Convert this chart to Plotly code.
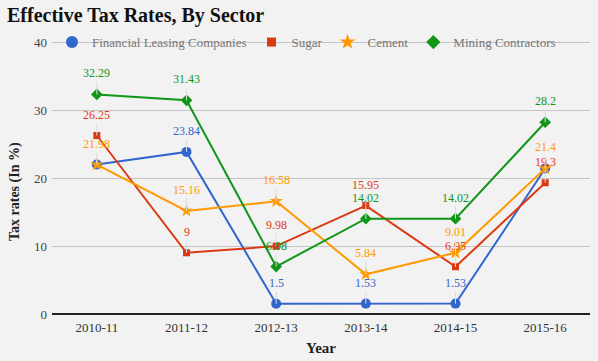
import plotly.graph_objects as go

years = ["2010-11", "2011-12", "2012-13", "2013-14", "2014-15", "2015-16"]
financial = [21.98, 23.84, 1.5, 1.53, 1.53, 21.4]
sugar = [26.25, 9, 9.98, 15.95, 6.95, 19.3]
cement = [21.98, 15.16, 16.58, 5.84, 9.01, 21.4]
mining = [32.29, 31.43, 6.98, 14.02, 14.02, 28.2]
# which data labels are visible (overlapping ones hidden as in the original)
financial_show = [False, True, True, True, True, False]
sugar_show = [True, True, True, True, True, True]
cement_show = [True, True, True, True, True, True]
mining_show = [True, True, True, True, True, True]

FONT = "Liberation Serif"
series = [
    ("Financial Leasing Companies", financial, financial_show, "#3366cc", "circle", 10),
    ("Sugar", sugar, sugar_show, "#dc3912", "square", 7),
    ("Cement", cement, cement_show, "#ff9900", "star", 10),
    ("Mining Contractors", mining, mining_show, "#109618", "diamond", 9),
]

fig = go.Figure()
annotations = []
for name, vals, show, color, sym, size in series:
    fig.add_trace(go.Scatter(
        x=years, y=vals, mode="lines+markers", name=name, showlegend=False,
        line=dict(color=color, width=2),
        marker=dict(symbol=sym, size=size, color=color),
    ))
    # legend entry: marker only, like the original
    fig.add_trace(go.Scatter(
        x=[None], y=[None], mode="markers", name=name,
        marker=dict(symbol=sym, size=size + 2, color=color),
    ))
    for x, v, s in zip(years, vals, show):
        if not s:
            continue
        annotations.append(dict(
            x=x, y=v, xref="x", yref="y", text=f"{v:g}",
            showarrow=True, arrowhead=0, arrowwidth=1, arrowcolor="#dddddd",
            ax=0, ay=-21, standoff=0,
            font=dict(family=FONT, size=12, color=color),
        ))

annotations.append(dict(
    text="<b>Effective Tax Rates, By Sector</b>", xref="paper", yref="paper",
    x=-0.087, y=1.0, xanchor="left", yanchor="bottom", yshift=12, showarrow=False,
    font=dict(family=FONT, size=20, color="#111111"),
))
annotations.append(dict(
    text="<b>Tax rates (In %)</b>", xref="paper", yref="paper",
    x=-0.069, y=0.45, xanchor="center", yanchor="middle", textangle=-90, showarrow=False,
    font=dict(family=FONT, size=14, color="#222222"),
))

fig.update_layout(
    width=598, height=361,
    paper_bgcolor="#f2f2f2", plot_bgcolor="#f2f2f2",
    margin=dict(l=52, r=8, t=41, b=47),
    font=dict(family=FONT, size=12, color="#444444"),
    showlegend=True,
    legend=dict(orientation="h", x=0.0, y=0.996, yanchor="middle", xanchor="left",
                bgcolor="rgba(0,0,0,0)", font=dict(family=FONT, size=13, color="#777777"),
                itemwidth=30, tracegroupgap=0),
    annotations=annotations,
    xaxis=dict(
        type="category", range=[-0.5, 5.5],
        showgrid=False, zeroline=False, showline=False, ticks="",
        tickfont=dict(family=FONT, size=13, color="#333333"),
        ticklabelstandoff=4,
        title=dict(text="<b>Year</b>", font=dict(family=FONT, size=15, color="#222222"), standoff=8),
    ),
    yaxis=dict(
        range=[0, 40.15], tickvals=[0, 10, 20, 30, 40],
        showgrid=True, gridcolor="#c4c4c4", gridwidth=1,
        zeroline=True, zerolinecolor="#222222", zerolinewidth=2,
        tickfont=dict(family=FONT, size=13, color="#444444"),
        ticklabelstandoff=4,
    ),
)

fig.write_html("out.html", config={"displayModeBar": False},
               post_script="document.body.style.margin='0';")
